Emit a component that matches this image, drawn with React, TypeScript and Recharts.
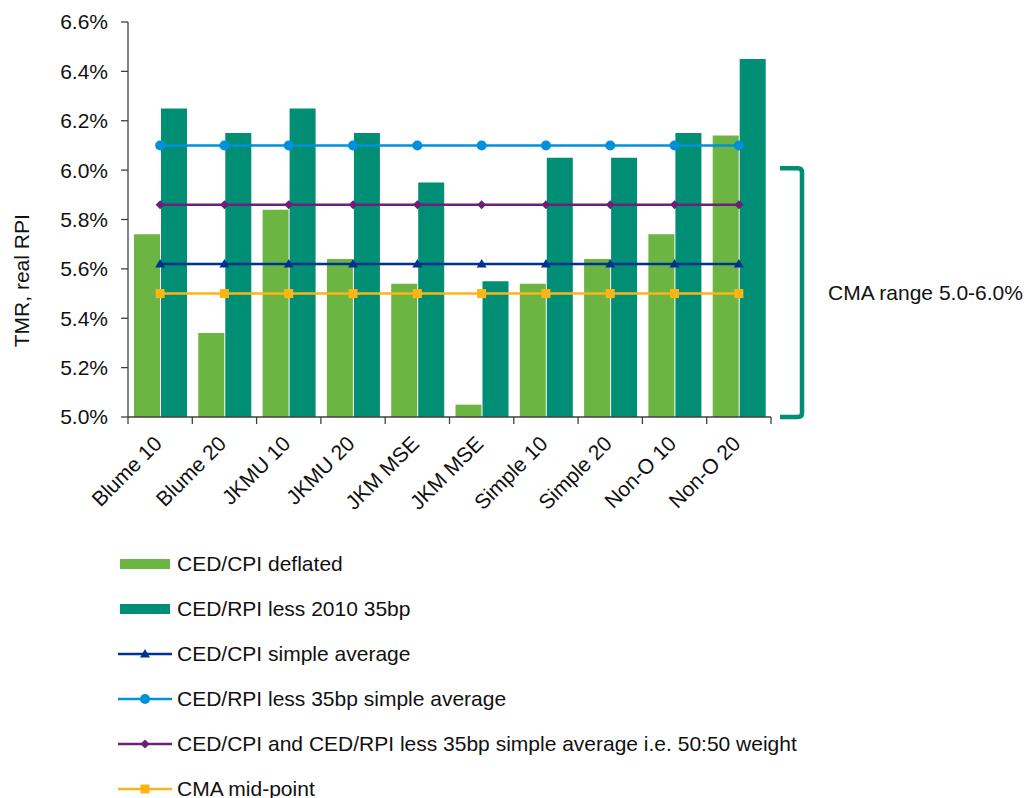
import { ComposedChart, Bar, Line, XAxis, YAxis, ReferenceArea, Label } from "recharts";

const categories = [
  "Blume 10",
  "Blume 20",
  "JKMU 10",
  "JKMU 20",
  "JKM MSE",
  "JKM MSE",
  "Simple 10",
  "Simple 20",
  "Non-O 10",
  "Non-O 20",
];

// bar series (% real)
const cpiDeflated = [5.74, 5.34, 5.84, 5.64, 5.54, 5.05, 5.54, 5.64, 5.74, 6.14];
const rpiLess2010 = [6.25, 6.15, 6.25, 6.15, 5.95, 5.55, 6.05, 6.05, 6.15, 6.45];

// flat reference lines
const cpiSimpleAverage = 5.62;
const rpiSimpleAverage = 6.1;
const blendedAverage = 5.86;
const cmaMidPoint = 5.5;

const cmaRange = [5.0, 6.0];
const yTicks = [5.0, 5.2, 5.4, 5.6, 5.8, 6.0, 6.2, 6.4, 6.6];

const FONT = "'Liberation Sans', Arial, sans-serif";
const AXIS = "#404040";

const LIGHT_GREEN = "#6db543";
const TEAL = "#008e74";
const NAVY = "#00338d";
const SKY = "#0091da";
const PURPLE = "#6d2077";
const ORANGE = "#fdb515";

const data = categories.map((name, i) => ({
  name,
  cpi: cpiDeflated[i],
  rpi: rpiLess2010[i],
  cpiAvg: cpiSimpleAverage,
  rpiAvg: rpiSimpleAverage,
  blended: blendedAverage,
  mid: cmaMidPoint,
}));

type Marker = "triangle" | "circle" | "diamond" | "square";

function markerShape(kind: Marker, cx: number, cy: number, color: string) {
  switch (kind) {
    case "triangle":
      return <path d={`M${cx},${cy - 5} L${cx + 5},${cy + 3.5} L${cx - 5},${cy + 3.5} Z`} fill={color} />;
    case "circle":
      return <circle cx={cx} cy={cy} r={5} fill={color} />;
    case "diamond":
      return <path d={`M${cx},${cy - 4.5} L${cx + 4.5},${cy} L${cx},${cy + 4.5} L${cx - 4.5},${cy} Z`} fill={color} />;
    default:
      return <rect x={cx - 4.5} y={cy - 4.5} width={9} height={9} fill={color} />;
  }
}

const makeDot = (kind: Marker, color: string) => (p: any) =>
  <g key={`${kind}-${p.index}`}>{markerShape(kind, p.cx, p.cy, color)}</g>;

const lines = [
  { key: "cpiAvg", name: "CED/CPI simple average", color: NAVY, marker: "triangle" as Marker },
  { key: "rpiAvg", name: "CED/RPI less 35bp simple average", color: SKY, marker: "circle" as Marker },
  { key: "blended", name: "CED/CPI and CED/RPI less 35bp simple average i.e. 50:50 weight", color: PURPLE, marker: "diamond" as Marker },
  { key: "mid", name: "CMA mid-point", color: ORANGE, marker: "square" as Marker },
];

const bars = [
  { key: "cpi", name: "CED/CPI deflated", color: LIGHT_GREEN },
  { key: "rpi", name: "CED/RPI less 2010 35bp", color: TEAL },
];

function CategoryTick(props: any) {
  const { x, y, payload, index, visibleTicksCount } = props;
  const half = payload?.offset ?? 32;
  const last = index === (visibleTicksCount ?? categories.length) - 1;
  const ax = x + 3;
  const ay = y + 28;
  return (
    <g>
      <line x1={x - half} x2={x - half} y1={y} y2={y + 7} stroke={AXIS} strokeWidth={1.3} />
      {last && <line x1={x + half} x2={x + half} y1={y} y2={y + 7} stroke={AXIS} strokeWidth={1.3} />}
      <text
        x={ax}
        y={ay}
        textAnchor="end"
        fontSize={21}
        fontFamily={FONT}
        fill="#111"
        transform={`rotate(-45 ${ax} ${ay})`}
      >
        {payload.value}
      </text>
    </g>
  );
}

// bracket spanning the CMA range, drawn to the right of the plot
function CmaBracket(props: any) {
  const { x, y, width, height } = props;
  const right = x + width + 31;
  const left = x + width + 9;
  const top = y - 2;
  const bottom = y + height;
  const r = 4;
  return (
    <g>
      <path
        d={`M${left},${top} L${right - r},${top} Q${right},${top} ${right},${top + r} L${right},${bottom - r} Q${right},${bottom} ${right - r},${bottom} L${left},${bottom}`}
        fill="none"
        stroke={TEAL}
        strokeWidth={4.5}
      />
      <text x={right + 26} y={(top + bottom) / 2 + 7} fontSize={21} fontFamily={FONT} fill="#111">
        CMA range 5.0-6.0%
      </text>
    </g>
  );
}

function LegendBlock() {
  const items = [
    ...bars.map((b) => ({ name: b.name, color: b.color, marker: null as Marker | null })),
    ...lines.map((l) => ({ name: l.name, color: l.color, marker: l.marker })),
  ];
  return (
    <div style={{ position: "absolute", left: 118, top: 541 }}>
      {items.map((it) => (
        <div key={it.name} style={{ display: "flex", alignItems: "center", height: 45 }}>
          <svg width={56} height={20} style={{ flex: "none" }}>
            {it.marker === null ? (
              <rect x={2} y={5} width={50} height={10} fill={it.color} />
            ) : (
              <g>
                <line x1={0} x2={54} y1={10} y2={10} stroke={it.color} strokeWidth={2.5} />
                {markerShape(it.marker, 27, 10, it.color)}
              </g>
            )}
          </svg>
          <span style={{ fontFamily: FONT, fontSize: 21, color: "#111", marginLeft: 3, whiteSpace: "nowrap" }}>
            {it.name}
          </span>
        </div>
      ))}
    </div>
  );
}

export default function App() {
  return (
    <div style={{ position: "absolute", left: 0, top: 0, width: 1030, height: 798, background: "#fff" }}>
      <ComposedChart
        width={1030}
        height={540}
        data={data}
        margin={{ top: 22, right: 259, bottom: 13, left: 30 }}
        barCategoryGap={6}
        barGap={1}
      >
        <XAxis
          dataKey="name"
          height={110}
          stroke={AXIS}
          strokeWidth={1.3}
          tickSize={0}
          tickMargin={0}
          tick={<CategoryTick />}
          interval={0}
        />
        <YAxis
          type="number"
          domain={[5.0, 6.6]}
          ticks={yTicks}
          allowDataOverflow
          width={98}
          stroke={AXIS}
          strokeWidth={1.3}
          tickSize={7}
          tickMargin={13}
          tick={{ fontSize: 21, fontFamily: FONT, fill: "#111" }}
          tickFormatter={(v: number) => `${v.toFixed(1)}%`}
        >
          <Label
            content={(p: any) => {
              const vb = p.viewBox || { x: 30, y: 22, height: 395 };
              const lx = vb.x - 1;
              const ly = vb.y + vb.height * 0.655;
              return (
                <text
                  x={lx}
                  y={ly}
                  textAnchor="middle"
                  fontSize={21}
                  fontFamily={FONT}
                  fill="#111"
                  transform={`rotate(-90 ${lx} ${ly})`}
                >
                  TMR, real RPI
                </text>
              );
            }}
          />
        </YAxis>
        {bars.map((b) => (
          <Bar key={b.key} dataKey={b.key} name={b.name} fill={b.color} isAnimationActive={false} />
        ))}
        {lines.map((l) => (
          <Line
            key={l.key}
            dataKey={l.key}
            name={l.name}
            stroke={l.color}
            strokeWidth={2.5}
            dot={makeDot(l.marker, l.color)}
            activeDot={false}
            isAnimationActive={false}
          />
        ))}
        <ReferenceArea
          y1={cmaRange[0]}
          y2={cmaRange[1]}
          ifOverflow="visible"
          shape={<CmaBracket />}
        />
      </ComposedChart>
      <LegendBlock />
    </div>
  );
}
